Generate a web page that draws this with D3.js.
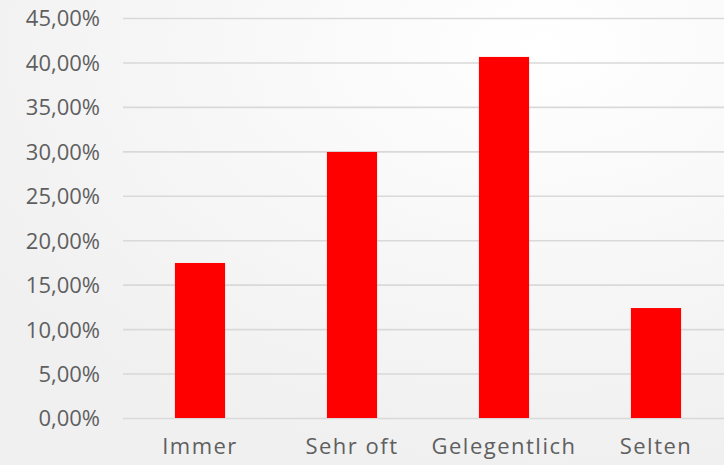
<!DOCTYPE html>
<html>
<head>
<meta charset="utf-8">
<script src="https://d3js.org/d3.v7.min.js"></script>
<style>
  body { margin: 0; }
  svg { display: block; }
  .tick text { font-family: "Open Sans", "Noto Sans", sans-serif; fill: #5f5f5f; }
</style>
</head>
<body>
<div id="chart"></div>
<script>
// data
var categories = ["Immer", "Sehr oft", "Gelegentlich", "Selten"];
var values = [0.1744, 0.2993, 0.4062, 0.1237];
var yTicks = [0, 0.05, 0.10, 0.15, 0.20, 0.25, 0.30, 0.35, 0.40, 0.45];

var W = 724, H = 465;
var svg = d3.select("#chart").append("svg")
  .attr("width", W).attr("height", H);

// soft grey background with a light patch in the top right
var defs = svg.append("defs");
var grad = defs.append("radialGradient").attr("id", "bg")
  .attr("cx", "75%").attr("cy", "10%").attr("r", "90%");
grad.append("stop").attr("offset", "0%").attr("stop-color", "#ffffff");
grad.append("stop").attr("offset", "100%").attr("stop-color", "#f0f0f0");
svg.append("rect").attr("width", W).attr("height", H).attr("fill", "url(#bg)");

var x = d3.scaleBand().domain(categories).range([124, 732]).paddingInner(0.67).paddingOuter(0.335);
var y = d3.scaleLinear().domain([0, 0.45]).range([418, 18]);

var fmt = function(v) { return d3.format(".2f")(v * 100).replace(".", ",") + "%"; };

// y axis + grid
var yAxis = svg.append("g")
  .attr("transform", "translate(123,0)")
  .call(d3.axisLeft(y).tickValues(yTicks).tickFormat(fmt).tickSize(-601).tickPadding(23));
yAxis.select(".domain").remove();
yAxis.selectAll(".tick line").attr("stroke", "#d9d9d9").attr("stroke-width", 1.6);
yAxis.selectAll(".tick text").style("font-size", "22px").attr("dy", "0.36em");

// bars
svg.selectAll("rect.bar")
  .data(values)
  .enter().append("rect")
  .attr("class", "bar")
  .attr("x", function(d, i) { return x(categories[i]); })
  .attr("width", x.bandwidth())
  .attr("y", function(d) { return y(d); })
  .attr("height", function(d) { return y(0) - y(d); })
  .attr("fill", "#ff0000");

// x axis
var xAxis = svg.append("g")
  .attr("transform", "translate(0,418)")
  .call(d3.axisBottom(x).tickSize(0).tickPadding(20));
xAxis.select(".domain").remove();
xAxis.selectAll(".tick text").style("font-size", "22px").style("letter-spacing", "1.5px");
</script>
</body>
</html>
